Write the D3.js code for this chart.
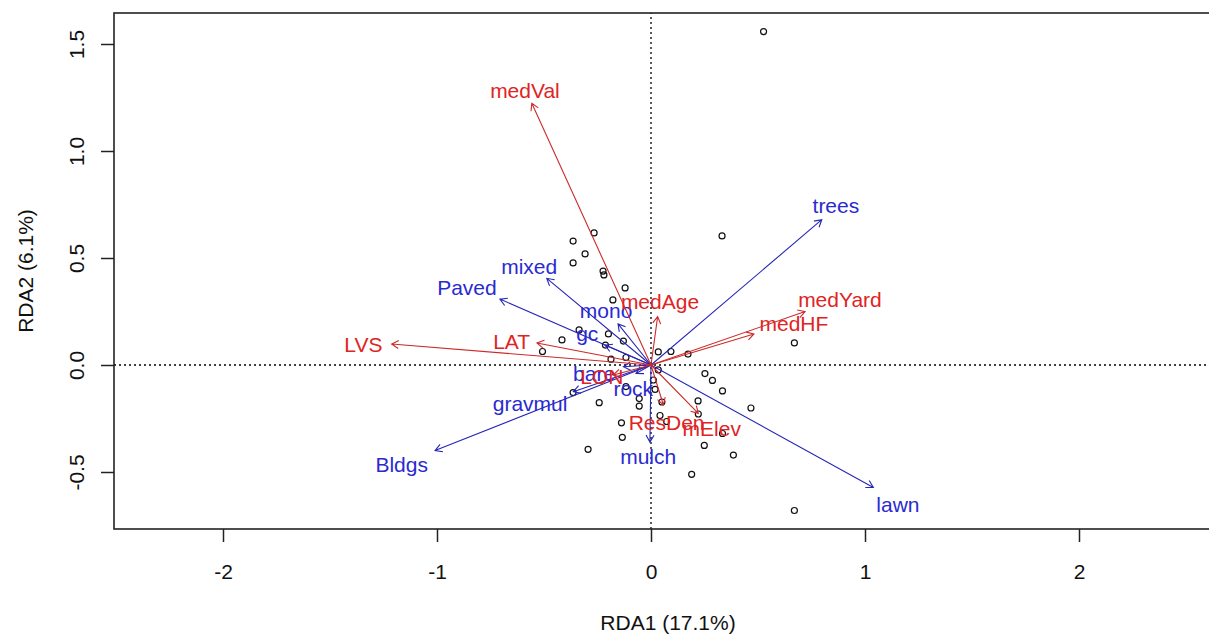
<!DOCTYPE html>
<html>
<head>
<meta charset="utf-8">
<script src="https://cdn.jsdelivr.net/npm/d3@7"></script>
<style>
  html, body { margin: 0; padding: 0; background: #fff; }
  svg { display: block; font-family: "Liberation Sans", Arial, sans-serif; }
</style>
</head>
<body>
<svg id="chart" width="1209" height="634"></svg>
<script>
// ---- RDA triplot data (scaling as plotted) ----

// site scores
const siteRDA1 = [0.526, 0.332, -0.266, -0.364, -0.308, -0.364, -0.224, -0.220, -0.121, -0.178,
  -0.336, -0.199, -0.129, -0.416, -0.507, -0.213, 0.034, 0.093, 0.173, -0.187,
  -0.117, 0.034, 0.011, 0.252, 0.287, 0.334, 0.467, 0.670, -0.242, -0.364,
  -0.117, 0.019, -0.055, -0.055, 0.051, 0.220, 0.221, 0.042, 0.073, -0.138,
  -0.134, -0.294, 0.249, 0.334, 0.385, 0.190, 0.670];
const siteRDA2 = [1.558, 0.603, 0.617, 0.579, 0.519, 0.477, 0.439, 0.421, 0.360, 0.304,
  0.164, 0.145, 0.112, 0.117, 0.063, 0.093, 0.061, 0.063, 0.051, 0.027,
  0.035, -0.023, -0.070, -0.040, -0.072, -0.121, -0.201, 0.103, -0.176, -0.129,
  -0.101, -0.114, -0.157, -0.192, -0.173, -0.168, -0.229, -0.236, -0.264, -0.270,
  -0.338, -0.394, -0.376, -0.320, -0.421, -0.511, -0.680];

// response (ground cover) vectors
const coverNames = ["trees", "lawn", "Bldgs", "Paved", "mixed", "mono", "gc", "bare", "rock", "gravmul", "mulch"];
const coverRDA1  = [0.798, 1.039, -1.009, -0.706, -0.487, -0.154, -0.215, -0.129, -0.070, -0.363, -0.005];
const coverRDA2  = [0.679, -0.572, -0.400, 0.308, 0.405, 0.192, 0.093, -0.008, -0.040, -0.125, -0.360];
const coverLabRDA1 = [0.864, 1.154, -1.165, -0.860, -0.569, -0.210, -0.298, -0.266, -0.083, -0.565, -0.013];
const coverLabRDA2 = [0.743, -0.650, -0.464, 0.364, 0.459, 0.254, 0.148, -0.042, -0.109, -0.179, -0.428];

// explanatory (neighbourhood) vectors
const envNames = ["medVal", "medAge", "medYard", "medHF", "LVS", "LAT", "LON", "ResDen", "mElev"];
const envRDA1  = [-0.557, 0.031, 0.720, 0.481, -1.212, -0.533, -0.176, 0.058, 0.221];
const envRDA2  = [1.223, 0.226, 0.250, 0.145, 0.098, 0.103, -0.047, -0.187, -0.226];
const envLabRDA1 = [-0.589, 0.042, 0.883, 0.668, -1.344, -0.651, -0.230, 0.073, 0.284];
const envLabRDA2 = [1.282, 0.296, 0.308, 0.192, 0.098, 0.109, -0.055, -0.270, -0.296];

// axes
const xTicks = [-2, -1, 0, 1, 2];
const yTicks = [-0.5, 0.0, 0.5, 1.0, 1.5];
const xTitle = "RDA1 (17.1%)";
const yTitle = "RDA2 (6.1%)";

// ---- layout ----
const svg = d3.select("#chart");
const plot = { left: 114, right: 1222, top: 13, bottom: 529 };
const unit = 214; // equal aspect: pixels per unit on both axes
const x = d3.scaleLinear()
  .domain([0 - (651 - plot.left) / unit, (plot.right - 651) / unit])
  .range([plot.left, plot.right]);
const y = d3.scaleLinear()
  .domain([-(plot.bottom - 365) / unit, (365 - plot.top) / unit])
  .range([plot.bottom, plot.top]);

const fontSize = 21;
const blueText = "#2a2ad2", blueLine = "#2626b8";
const redText = "#e02424", redLine = "#cc2b2b";
const hyphenMinus = s => s.replace("\u2212", "-");

svg.append("defs").append("clipPath").attr("id", "plotclip")
  .append("rect")
  .attr("x", plot.left).attr("y", plot.top)
  .attr("width", plot.right - plot.left).attr("height", plot.bottom - plot.top);

const inner = svg.append("g").attr("clip-path", "url(#plotclip)");

// dotted zero lines
inner.append("line")
  .attr("x1", x.range()[0]).attr("x2", x.range()[1])
  .attr("y1", y(0)).attr("y2", y(0))
  .attr("stroke", "#000").attr("stroke-width", 1.3).attr("stroke-dasharray", "2,3");
inner.append("line")
  .attr("x1", x(0)).attr("x2", x(0))
  .attr("y1", y.range()[0]).attr("y2", y.range()[1])
  .attr("stroke", "#000").attr("stroke-width", 1.3).attr("stroke-dasharray", "2,3");

// sites
inner.append("g").selectAll("circle")
  .data(d3.range(siteRDA1.length))
  .join("circle")
  .attr("cx", i => x(siteRDA1[i]))
  .attr("cy", i => y(siteRDA2[i]))
  .attr("r", 3)
  .attr("fill", "none")
  .attr("stroke", "#111")
  .attr("stroke-width", 1.2);

// vector drawing: shaft from origin plus open V head
function drawVectors(g, names, vx, vy, lx, ly, lineCol, textCol) {
  const head = 8, ang = Math.PI / 6;
  const idx = d3.range(names.length);
  g.append("g").selectAll("path")
    .data(idx)
    .join("path")
    .attr("d", i => {
      const x0 = x(0), y0 = y(0), x1 = x(vx[i]), y1 = y(vy[i]);
      const th = Math.atan2(y1 - y0, x1 - x0);
      const ax = x1 - head * Math.cos(th - ang), ay = y1 - head * Math.sin(th - ang);
      const bx = x1 - head * Math.cos(th + ang), by = y1 - head * Math.sin(th + ang);
      return `M${x0},${y0}L${x1},${y1}M${ax},${ay}L${x1},${y1}L${bx},${by}`;
    })
    .attr("fill", "none")
    .attr("stroke", lineCol)
    .attr("stroke-width", 1.1);
  g.append("g").selectAll("text")
    .data(idx)
    .join("text")
    .attr("x", i => x(lx[i]))
    .attr("y", i => y(ly[i]))
    .attr("text-anchor", "middle")
    .attr("dominant-baseline", "central")
    .attr("font-size", fontSize)
    .attr("fill", textCol)
    .text(i => names[i]);
}

drawVectors(inner.append("g"), coverNames, coverRDA1, coverRDA2, coverLabRDA1, coverLabRDA2, blueLine, blueText);
drawVectors(inner.append("g"), envNames, envRDA1, envRDA2, envLabRDA1, envLabRDA2, redLine, redText);

// frame
svg.append("rect")
  .attr("x", plot.left).attr("y", plot.top)
  .attr("width", plot.right - plot.left).attr("height", plot.bottom - plot.top)
  .attr("fill", "none").attr("stroke", "#222").attr("stroke-width", 1.6);

// x axis
const xAxis = svg.append("g")
  .attr("transform", `translate(0,${plot.bottom})`)
  .call(d3.axisBottom(x).tickValues(xTicks).tickSize(13).tickPadding(22)
    .tickFormat(d => hyphenMinus(d3.format("d")(d))));
xAxis.select(".domain").remove();
xAxis.selectAll("line").attr("stroke", "#222").attr("stroke-width", 1.5);
xAxis.selectAll("text").attr("font-size", fontSize).attr("fill", "#111")
  .attr("font-family", "Liberation Sans, Arial, sans-serif");

// y axis with labels reading upward
const yAxis = svg.append("g")
  .attr("transform", `translate(${plot.left},0)`)
  .call(d3.axisLeft(y).tickValues(yTicks).tickSize(13)
    .tickFormat(d => hyphenMinus(d3.format(".1f")(d))));
yAxis.select(".domain").remove();
yAxis.selectAll("line").attr("stroke", "#222").attr("stroke-width", 1.5);
yAxis.selectAll("text")
  .attr("x", null).attr("dy", null)
  .attr("transform", "translate(-38,0) rotate(-90)")
  .attr("text-anchor", "middle")
  .attr("dominant-baseline", "central")
  .attr("font-size", fontSize).attr("fill", "#111")
  .attr("font-family", "Liberation Sans, Arial, sans-serif");

// axis titles
svg.append("text")
  .attr("x", (plot.left + plot.right) / 2)
  .attr("y", 622)
  .attr("text-anchor", "middle")
  .attr("dominant-baseline", "central")
  .attr("font-size", fontSize).attr("fill", "#111")
  .text(xTitle);
svg.append("text")
  .attr("transform", `translate(25,${(plot.top + plot.bottom) / 2}) rotate(-90)`)
  .attr("text-anchor", "middle")
  .attr("dominant-baseline", "central")
  .attr("font-size", fontSize).attr("fill", "#111")
  .text(yTitle);
</script>
</body>
</html>
